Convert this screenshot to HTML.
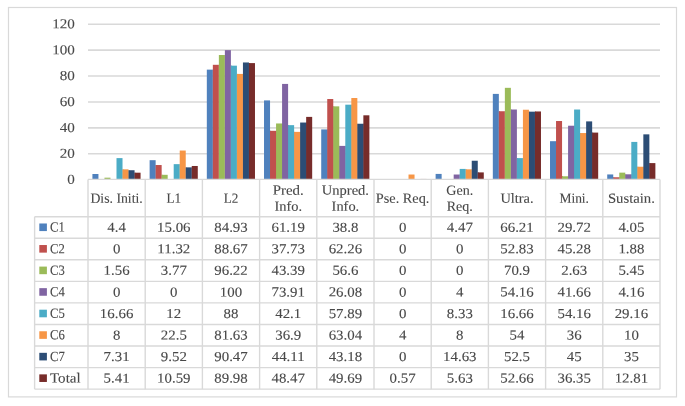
<!DOCTYPE html>
<html><head><meta charset="utf-8"><title>Chart</title>
<style>
html,body{margin:0;padding:0;background:#fff;}
body{width:685px;height:406px;overflow:hidden;}
svg{display:block;}
svg text{font-family:"Liberation Serif",serif;text-rendering:geometricPrecision;stroke:#484848;stroke-width:.1px;}
</style></head><body>
<svg width="685" height="406" viewBox="0 0 685 406" font-family="'Liberation Serif', serif" font-size="13.9" fill="#484848">
<rect x="0" y="0" width="685" height="406" fill="#fff"/>
<rect x="8.5" y="7.5" width="668" height="389.4" fill="none" stroke="#d9d9d9" stroke-width="1.2"/>
<line x1="88.0" x2="660.0" y1="153.78" y2="153.78" stroke="#d9d9d9" stroke-width="1.55"/>
<line x1="88.0" x2="660.0" y1="127.87" y2="127.87" stroke="#d9d9d9" stroke-width="1.55"/>
<line x1="88.0" x2="660.0" y1="101.95" y2="101.95" stroke="#d9d9d9" stroke-width="1.55"/>
<line x1="88.0" x2="660.0" y1="76.03" y2="76.03" stroke="#d9d9d9" stroke-width="1.55"/>
<line x1="88.0" x2="660.0" y1="50.12" y2="50.12" stroke="#d9d9d9" stroke-width="1.55"/>
<line x1="88.0" x2="660.0" y1="24.20" y2="24.20" stroke="#d9d9d9" stroke-width="1.55"/>
<text transform="translate(74.90,183.80) skewY(0.1) scale(1.11,1)" text-anchor="end" font-size="13.6">0</text>
<text transform="translate(74.90,157.88) skewY(0.1) scale(1.11,1)" text-anchor="end" font-size="13.6">20</text>
<text transform="translate(74.90,131.97) skewY(0.1) scale(1.11,1)" text-anchor="end" font-size="13.6">40</text>
<text transform="translate(74.90,106.05) skewY(0.1) scale(1.11,1)" text-anchor="end" font-size="13.6">60</text>
<text transform="translate(74.90,80.13) skewY(0.1) scale(1.11,1)" text-anchor="end" font-size="13.6">80</text>
<text transform="translate(74.90,54.22) skewY(0.1) scale(1.11,1)" text-anchor="end" font-size="13.6">100</text>
<text transform="translate(74.90,28.30) skewY(0.1) scale(1.11,1)" text-anchor="end" font-size="13.6">120</text>
<g fill="#4F81BD">
<rect x="92.42" y="174.00" width="6.02" height="5.70"/>
<rect x="149.62" y="160.18" width="6.02" height="19.52"/>
<rect x="155.59" y="165.03" width="1" height="14.67"/>
<rect x="206.82" y="69.64" width="6.02" height="110.06"/>
<rect x="212.79" y="69.64" width="1" height="110.06"/>
<rect x="264.02" y="100.41" width="6.02" height="79.29"/>
<rect x="269.99" y="130.81" width="1" height="48.89"/>
<rect x="321.22" y="129.42" width="6.02" height="50.28"/>
<rect x="327.19" y="129.42" width="1" height="50.28"/>
<rect x="435.62" y="173.91" width="6.02" height="5.79"/>
<rect x="492.82" y="93.90" width="6.02" height="85.80"/>
<rect x="498.79" y="111.24" width="1" height="68.46"/>
<rect x="550.02" y="141.19" width="6.02" height="38.51"/>
<rect x="555.99" y="141.19" width="1" height="38.51"/>
<rect x="607.22" y="174.45" width="6.02" height="5.25"/>
<rect x="613.19" y="177.26" width="1" height="2.44"/>
</g>
<g fill="#C0504D">
<rect x="155.64" y="165.03" width="6.02" height="14.67"/>
<rect x="161.61" y="174.81" width="1" height="4.89"/>
<rect x="212.84" y="64.80" width="6.02" height="114.90"/>
<rect x="218.81" y="64.80" width="1" height="114.90"/>
<rect x="270.04" y="130.81" width="6.02" height="48.89"/>
<rect x="276.01" y="130.81" width="1" height="48.89"/>
<rect x="327.24" y="99.02" width="6.02" height="80.68"/>
<rect x="333.21" y="106.36" width="1" height="73.34"/>
<rect x="498.84" y="111.24" width="6.02" height="68.46"/>
<rect x="504.81" y="111.24" width="1" height="68.46"/>
<rect x="556.04" y="121.02" width="6.02" height="58.68"/>
<rect x="562.01" y="176.29" width="1" height="3.41"/>
<rect x="613.24" y="177.26" width="6.02" height="2.44"/>
<rect x="619.21" y="177.26" width="1" height="2.44"/>
</g>
<g fill="#9BBB59">
<rect x="104.46" y="177.68" width="6.02" height="2.02"/>
<rect x="161.66" y="174.81" width="6.02" height="4.89"/>
<rect x="218.86" y="55.01" width="6.02" height="124.69"/>
<rect x="224.83" y="55.01" width="1" height="124.69"/>
<rect x="276.06" y="123.47" width="6.02" height="56.23"/>
<rect x="282.03" y="123.47" width="1" height="56.23"/>
<rect x="333.26" y="106.36" width="6.02" height="73.34"/>
<rect x="339.23" y="145.90" width="1" height="33.80"/>
<rect x="504.86" y="87.83" width="6.02" height="91.87"/>
<rect x="510.83" y="109.52" width="1" height="70.18"/>
<rect x="562.06" y="176.29" width="6.02" height="3.41"/>
<rect x="568.03" y="176.29" width="1" height="3.41"/>
<rect x="619.26" y="172.64" width="6.02" height="7.06"/>
<rect x="625.23" y="174.31" width="1" height="5.39"/>
</g>
<g fill="#8064A2">
<rect x="224.88" y="50.12" width="6.02" height="129.58"/>
<rect x="230.85" y="65.67" width="1" height="114.03"/>
<rect x="282.08" y="83.92" width="6.02" height="95.78"/>
<rect x="288.05" y="125.15" width="1" height="54.55"/>
<rect x="339.28" y="145.90" width="6.02" height="33.80"/>
<rect x="345.25" y="145.90" width="1" height="33.80"/>
<rect x="453.68" y="174.52" width="6.02" height="5.18"/>
<rect x="459.65" y="174.52" width="1" height="5.18"/>
<rect x="510.88" y="109.52" width="6.02" height="70.18"/>
<rect x="516.85" y="158.11" width="1" height="21.59"/>
<rect x="568.08" y="125.72" width="6.02" height="53.98"/>
<rect x="574.05" y="125.72" width="1" height="53.98"/>
<rect x="625.28" y="174.31" width="6.02" height="5.39"/>
<rect x="631.25" y="174.31" width="1" height="5.39"/>
</g>
<g fill="#4BACC6">
<rect x="116.50" y="158.11" width="6.02" height="21.59"/>
<rect x="122.47" y="169.33" width="1" height="10.37"/>
<rect x="173.70" y="164.15" width="6.02" height="15.55"/>
<rect x="179.67" y="164.15" width="1" height="15.55"/>
<rect x="230.90" y="65.67" width="6.02" height="114.03"/>
<rect x="236.87" y="73.92" width="1" height="105.78"/>
<rect x="288.10" y="125.15" width="6.02" height="54.55"/>
<rect x="294.07" y="131.88" width="1" height="47.82"/>
<rect x="345.30" y="104.68" width="6.02" height="75.02"/>
<rect x="351.27" y="104.68" width="1" height="75.02"/>
<rect x="459.70" y="168.91" width="6.02" height="10.79"/>
<rect x="465.67" y="169.33" width="1" height="10.37"/>
<rect x="516.90" y="158.11" width="6.02" height="21.59"/>
<rect x="522.87" y="158.11" width="1" height="21.59"/>
<rect x="574.10" y="109.52" width="6.02" height="70.18"/>
<rect x="580.07" y="133.05" width="1" height="46.65"/>
<rect x="631.30" y="141.91" width="6.02" height="37.79"/>
<rect x="637.27" y="166.74" width="1" height="12.96"/>
</g>
<g fill="#F79646">
<rect x="122.52" y="169.33" width="6.02" height="10.37"/>
<rect x="128.49" y="170.23" width="1" height="9.47"/>
<rect x="179.72" y="150.54" width="6.02" height="29.16"/>
<rect x="185.69" y="167.36" width="1" height="12.34"/>
<rect x="236.92" y="73.92" width="6.02" height="105.78"/>
<rect x="242.89" y="73.92" width="1" height="105.78"/>
<rect x="294.12" y="131.88" width="6.02" height="47.82"/>
<rect x="300.09" y="131.88" width="1" height="47.82"/>
<rect x="351.32" y="98.01" width="6.02" height="81.69"/>
<rect x="357.29" y="123.75" width="1" height="55.95"/>
<rect x="408.52" y="174.52" width="6.02" height="5.18"/>
<rect x="465.72" y="169.33" width="6.02" height="10.37"/>
<rect x="471.69" y="169.33" width="1" height="10.37"/>
<rect x="522.92" y="109.73" width="6.02" height="69.98"/>
<rect x="528.89" y="111.67" width="1" height="68.03"/>
<rect x="580.12" y="133.05" width="6.02" height="46.65"/>
<rect x="586.09" y="133.05" width="1" height="46.65"/>
<rect x="637.32" y="166.74" width="6.02" height="12.96"/>
<rect x="643.29" y="166.74" width="1" height="12.96"/>
</g>
<g fill="#2C4D75">
<rect x="128.54" y="170.23" width="6.02" height="9.47"/>
<rect x="134.51" y="172.69" width="1" height="7.01"/>
<rect x="185.74" y="167.36" width="6.02" height="12.34"/>
<rect x="191.71" y="167.36" width="1" height="12.34"/>
<rect x="242.94" y="62.47" width="6.02" height="117.23"/>
<rect x="248.91" y="63.10" width="1" height="116.60"/>
<rect x="300.14" y="122.54" width="6.02" height="57.16"/>
<rect x="306.11" y="122.54" width="1" height="57.16"/>
<rect x="357.34" y="123.75" width="6.02" height="55.95"/>
<rect x="363.31" y="123.75" width="1" height="55.95"/>
<rect x="471.74" y="160.74" width="6.02" height="18.96"/>
<rect x="477.71" y="172.40" width="1" height="7.30"/>
<rect x="528.94" y="111.67" width="6.02" height="68.03"/>
<rect x="534.91" y="111.67" width="1" height="68.03"/>
<rect x="586.14" y="121.39" width="6.02" height="58.31"/>
<rect x="592.11" y="132.60" width="1" height="47.10"/>
<rect x="643.34" y="134.35" width="6.02" height="45.35"/>
<rect x="649.31" y="163.10" width="1" height="16.60"/>
</g>
<g fill="#772C2A">
<rect x="134.56" y="172.69" width="6.02" height="7.01"/>
<rect x="191.76" y="165.98" width="6.02" height="13.72"/>
<rect x="248.96" y="63.10" width="6.02" height="116.60"/>
<rect x="306.16" y="116.89" width="6.02" height="62.81"/>
<rect x="363.36" y="115.31" width="6.02" height="64.39"/>
<rect x="420.56" y="178.96" width="6.02" height="0.74"/>
<rect x="477.76" y="172.40" width="6.02" height="7.30"/>
<rect x="534.96" y="111.46" width="6.02" height="68.24"/>
<rect x="592.16" y="132.60" width="6.02" height="47.10"/>
<rect x="649.36" y="163.10" width="6.02" height="16.60"/>
</g>
<g stroke="#d9d9d9" stroke-width="1.4" fill="none">
<line x1="88.0" x2="660.0" y1="179.4" y2="179.4"/>
<line x1="34.6" x2="660.0" y1="216.70" y2="216.70"/>
<line x1="34.6" x2="660.0" y1="238.26" y2="238.26"/>
<line x1="34.6" x2="660.0" y1="259.81" y2="259.81"/>
<line x1="34.6" x2="660.0" y1="281.37" y2="281.37"/>
<line x1="34.6" x2="660.0" y1="302.92" y2="302.92"/>
<line x1="34.6" x2="660.0" y1="324.48" y2="324.48"/>
<line x1="34.6" x2="660.0" y1="346.04" y2="346.04"/>
<line x1="34.6" x2="660.0" y1="367.59" y2="367.59"/>
<line x1="34.6" x2="660.0" y1="389.15" y2="389.15"/>
<line x1="34.6" x2="34.6" y1="216.7" y2="389.15"/>
<line x1="88.00" x2="88.00" y1="179.4" y2="389.15"/>
<line x1="145.20" x2="145.20" y1="179.4" y2="389.15"/>
<line x1="202.40" x2="202.40" y1="179.4" y2="389.15"/>
<line x1="259.60" x2="259.60" y1="179.4" y2="389.15"/>
<line x1="316.80" x2="316.80" y1="179.4" y2="389.15"/>
<line x1="374.00" x2="374.00" y1="179.4" y2="389.15"/>
<line x1="431.20" x2="431.20" y1="179.4" y2="389.15"/>
<line x1="488.40" x2="488.40" y1="179.4" y2="389.15"/>
<line x1="545.60" x2="545.60" y1="179.4" y2="389.15"/>
<line x1="602.80" x2="602.80" y1="179.4" y2="389.15"/>
<line x1="660.00" x2="660.00" y1="179.4" y2="389.15"/>
</g>
<g>
<text transform="translate(116.60,202.70) skewY(0.1) scale(0.9898,1)" text-anchor="middle">Dis. Initi.</text>
<text transform="translate(173.80,202.70) skewY(0.1) scale(0.9506,1)" text-anchor="middle">L1</text>
<text transform="translate(231.00,202.70) skewY(0.1) scale(0.9506,1)" text-anchor="middle">L2</text>
<text transform="translate(288.20,194.65) skewY(0.1) scale(1.0721,1)" text-anchor="middle">Pred.</text>
<text transform="translate(288.20,210.65) skewY(0.1) scale(1.0359,1)" text-anchor="middle">Info.</text>
<text transform="translate(345.40,194.65) skewY(0.1) scale(1.0447,1)" text-anchor="middle">Unpred.</text>
<text transform="translate(345.40,210.65) skewY(0.1) scale(1.0359,1)" text-anchor="middle">Info.</text>
<text transform="translate(402.60,202.70) skewY(0.1) scale(1.0261,1)" text-anchor="middle">Pse. Req.</text>
<text transform="translate(459.80,194.65) skewY(0.1) scale(1.0094,1)" text-anchor="middle">Gen.</text>
<text transform="translate(459.80,210.65) skewY(0.1) scale(1.0094,1)" text-anchor="middle">Req.</text>
<text transform="translate(517.00,202.70) skewY(0.1) scale(1.0359,1)" text-anchor="middle">Ultra.</text>
<text transform="translate(574.20,202.70) skewY(0.1) scale(0.9702,1)" text-anchor="middle">Mini.</text>
<text transform="translate(631.40,202.70) skewY(0.1) scale(1.0584,1)" text-anchor="middle">Sustain.</text>
</g>
<rect x="39.3" y="223.48" width="7.6" height="7.6" fill="#4F81BD"/>
<text transform="translate(50.00,231.58) skewY(0.1) scale(0.9118,1)" text-anchor="start">C1</text>
<g>
<text transform="translate(116.60,231.73) skewY(0.1) scale(1.0936,1)" text-anchor="middle" font-size="13.6">4.4</text>
<text transform="translate(173.80,231.73) skewY(0.1) scale(1.0936,1)" text-anchor="middle" font-size="13.6">15.06</text>
<text transform="translate(231.00,231.73) skewY(0.1) scale(1.0936,1)" text-anchor="middle" font-size="13.6">84.93</text>
<text transform="translate(288.20,231.73) skewY(0.1) scale(1.0936,1)" text-anchor="middle" font-size="13.6">61.19</text>
<text transform="translate(345.40,231.73) skewY(0.1) scale(1.0936,1)" text-anchor="middle" font-size="13.6">38.8</text>
<text transform="translate(402.60,231.73) skewY(0.1) scale(1.0936,1)" text-anchor="middle" font-size="13.6">0</text>
<text transform="translate(459.80,231.73) skewY(0.1) scale(1.0936,1)" text-anchor="middle" font-size="13.6">4.47</text>
<text transform="translate(517.00,231.73) skewY(0.1) scale(1.0936,1)" text-anchor="middle" font-size="13.6">66.21</text>
<text transform="translate(574.20,231.73) skewY(0.1) scale(1.0936,1)" text-anchor="middle" font-size="13.6">29.72</text>
<text transform="translate(631.40,231.73) skewY(0.1) scale(1.0936,1)" text-anchor="middle" font-size="13.6">4.05</text>
</g>
<rect x="39.3" y="245.03" width="7.6" height="7.6" fill="#C0504D"/>
<text transform="translate(50.00,253.13) skewY(0.1) scale(0.9118,1)" text-anchor="start">C2</text>
<g>
<text transform="translate(116.60,253.28) skewY(0.1) scale(1.0936,1)" text-anchor="middle" font-size="13.6">0</text>
<text transform="translate(173.80,253.28) skewY(0.1) scale(1.0936,1)" text-anchor="middle" font-size="13.6">11.32</text>
<text transform="translate(231.00,253.28) skewY(0.1) scale(1.0936,1)" text-anchor="middle" font-size="13.6">88.67</text>
<text transform="translate(288.20,253.28) skewY(0.1) scale(1.0936,1)" text-anchor="middle" font-size="13.6">37.73</text>
<text transform="translate(345.40,253.28) skewY(0.1) scale(1.0936,1)" text-anchor="middle" font-size="13.6">62.26</text>
<text transform="translate(402.60,253.28) skewY(0.1) scale(1.0936,1)" text-anchor="middle" font-size="13.6">0</text>
<text transform="translate(459.80,253.28) skewY(0.1) scale(1.0936,1)" text-anchor="middle" font-size="13.6">0</text>
<text transform="translate(517.00,253.28) skewY(0.1) scale(1.0936,1)" text-anchor="middle" font-size="13.6">52.83</text>
<text transform="translate(574.20,253.28) skewY(0.1) scale(1.0936,1)" text-anchor="middle" font-size="13.6">45.28</text>
<text transform="translate(631.40,253.28) skewY(0.1) scale(1.0936,1)" text-anchor="middle" font-size="13.6">1.88</text>
</g>
<rect x="39.3" y="266.59" width="7.6" height="7.6" fill="#9BBB59"/>
<text transform="translate(50.00,274.69) skewY(0.1) scale(0.9118,1)" text-anchor="start">C3</text>
<g>
<text transform="translate(116.60,274.84) skewY(0.1) scale(1.0936,1)" text-anchor="middle" font-size="13.6">1.56</text>
<text transform="translate(173.80,274.84) skewY(0.1) scale(1.0936,1)" text-anchor="middle" font-size="13.6">3.77</text>
<text transform="translate(231.00,274.84) skewY(0.1) scale(1.0936,1)" text-anchor="middle" font-size="13.6">96.22</text>
<text transform="translate(288.20,274.84) skewY(0.1) scale(1.0936,1)" text-anchor="middle" font-size="13.6">43.39</text>
<text transform="translate(345.40,274.84) skewY(0.1) scale(1.0936,1)" text-anchor="middle" font-size="13.6">56.6</text>
<text transform="translate(402.60,274.84) skewY(0.1) scale(1.0936,1)" text-anchor="middle" font-size="13.6">0</text>
<text transform="translate(459.80,274.84) skewY(0.1) scale(1.0936,1)" text-anchor="middle" font-size="13.6">0</text>
<text transform="translate(517.00,274.84) skewY(0.1) scale(1.0936,1)" text-anchor="middle" font-size="13.6">70.9</text>
<text transform="translate(574.20,274.84) skewY(0.1) scale(1.0936,1)" text-anchor="middle" font-size="13.6">2.63</text>
<text transform="translate(631.40,274.84) skewY(0.1) scale(1.0936,1)" text-anchor="middle" font-size="13.6">5.45</text>
</g>
<rect x="39.3" y="288.15" width="7.6" height="7.6" fill="#8064A2"/>
<text transform="translate(50.00,296.25) skewY(0.1) scale(0.9118,1)" text-anchor="start">C4</text>
<g>
<text transform="translate(116.60,296.40) skewY(0.1) scale(1.0936,1)" text-anchor="middle" font-size="13.6">0</text>
<text transform="translate(173.80,296.40) skewY(0.1) scale(1.0936,1)" text-anchor="middle" font-size="13.6">0</text>
<text transform="translate(231.00,296.40) skewY(0.1) scale(1.0936,1)" text-anchor="middle" font-size="13.6">100</text>
<text transform="translate(288.20,296.40) skewY(0.1) scale(1.0936,1)" text-anchor="middle" font-size="13.6">73.91</text>
<text transform="translate(345.40,296.40) skewY(0.1) scale(1.0936,1)" text-anchor="middle" font-size="13.6">26.08</text>
<text transform="translate(402.60,296.40) skewY(0.1) scale(1.0936,1)" text-anchor="middle" font-size="13.6">0</text>
<text transform="translate(459.80,296.40) skewY(0.1) scale(1.0936,1)" text-anchor="middle" font-size="13.6">4</text>
<text transform="translate(517.00,296.40) skewY(0.1) scale(1.0936,1)" text-anchor="middle" font-size="13.6">54.16</text>
<text transform="translate(574.20,296.40) skewY(0.1) scale(1.0936,1)" text-anchor="middle" font-size="13.6">41.66</text>
<text transform="translate(631.40,296.40) skewY(0.1) scale(1.0936,1)" text-anchor="middle" font-size="13.6">4.16</text>
</g>
<rect x="39.3" y="309.70" width="7.6" height="7.6" fill="#4BACC6"/>
<text transform="translate(50.00,317.80) skewY(0.1) scale(0.9118,1)" text-anchor="start">C5</text>
<g>
<text transform="translate(116.60,317.95) skewY(0.1) scale(1.0936,1)" text-anchor="middle" font-size="13.6">16.66</text>
<text transform="translate(173.80,317.95) skewY(0.1) scale(1.0936,1)" text-anchor="middle" font-size="13.6">12</text>
<text transform="translate(231.00,317.95) skewY(0.1) scale(1.0936,1)" text-anchor="middle" font-size="13.6">88</text>
<text transform="translate(288.20,317.95) skewY(0.1) scale(1.0936,1)" text-anchor="middle" font-size="13.6">42.1</text>
<text transform="translate(345.40,317.95) skewY(0.1) scale(1.0936,1)" text-anchor="middle" font-size="13.6">57.89</text>
<text transform="translate(402.60,317.95) skewY(0.1) scale(1.0936,1)" text-anchor="middle" font-size="13.6">0</text>
<text transform="translate(459.80,317.95) skewY(0.1) scale(1.0936,1)" text-anchor="middle" font-size="13.6">8.33</text>
<text transform="translate(517.00,317.95) skewY(0.1) scale(1.0936,1)" text-anchor="middle" font-size="13.6">16.66</text>
<text transform="translate(574.20,317.95) skewY(0.1) scale(1.0936,1)" text-anchor="middle" font-size="13.6">54.16</text>
<text transform="translate(631.40,317.95) skewY(0.1) scale(1.0936,1)" text-anchor="middle" font-size="13.6">29.16</text>
</g>
<rect x="39.3" y="331.26" width="7.6" height="7.6" fill="#F79646"/>
<text transform="translate(50.00,339.36) skewY(0.1) scale(0.9118,1)" text-anchor="start">C6</text>
<g>
<text transform="translate(116.60,339.51) skewY(0.1) scale(1.0936,1)" text-anchor="middle" font-size="13.6">8</text>
<text transform="translate(173.80,339.51) skewY(0.1) scale(1.0936,1)" text-anchor="middle" font-size="13.6">22.5</text>
<text transform="translate(231.00,339.51) skewY(0.1) scale(1.0936,1)" text-anchor="middle" font-size="13.6">81.63</text>
<text transform="translate(288.20,339.51) skewY(0.1) scale(1.0936,1)" text-anchor="middle" font-size="13.6">36.9</text>
<text transform="translate(345.40,339.51) skewY(0.1) scale(1.0936,1)" text-anchor="middle" font-size="13.6">63.04</text>
<text transform="translate(402.60,339.51) skewY(0.1) scale(1.0936,1)" text-anchor="middle" font-size="13.6">4</text>
<text transform="translate(459.80,339.51) skewY(0.1) scale(1.0936,1)" text-anchor="middle" font-size="13.6">8</text>
<text transform="translate(517.00,339.51) skewY(0.1) scale(1.0936,1)" text-anchor="middle" font-size="13.6">54</text>
<text transform="translate(574.20,339.51) skewY(0.1) scale(1.0936,1)" text-anchor="middle" font-size="13.6">36</text>
<text transform="translate(631.40,339.51) skewY(0.1) scale(1.0936,1)" text-anchor="middle" font-size="13.6">10</text>
</g>
<rect x="39.3" y="352.82" width="7.6" height="7.6" fill="#2C4D75"/>
<text transform="translate(50.00,360.92) skewY(0.1) scale(0.9118,1)" text-anchor="start">C7</text>
<g>
<text transform="translate(116.60,361.07) skewY(0.1) scale(1.0936,1)" text-anchor="middle" font-size="13.6">7.31</text>
<text transform="translate(173.80,361.07) skewY(0.1) scale(1.0936,1)" text-anchor="middle" font-size="13.6">9.52</text>
<text transform="translate(231.00,361.07) skewY(0.1) scale(1.0936,1)" text-anchor="middle" font-size="13.6">90.47</text>
<text transform="translate(288.20,361.07) skewY(0.1) scale(1.0936,1)" text-anchor="middle" font-size="13.6">44.11</text>
<text transform="translate(345.40,361.07) skewY(0.1) scale(1.0936,1)" text-anchor="middle" font-size="13.6">43.18</text>
<text transform="translate(402.60,361.07) skewY(0.1) scale(1.0936,1)" text-anchor="middle" font-size="13.6">0</text>
<text transform="translate(459.80,361.07) skewY(0.1) scale(1.0936,1)" text-anchor="middle" font-size="13.6">14.63</text>
<text transform="translate(517.00,361.07) skewY(0.1) scale(1.0936,1)" text-anchor="middle" font-size="13.6">52.5</text>
<text transform="translate(574.20,361.07) skewY(0.1) scale(1.0936,1)" text-anchor="middle" font-size="13.6">45</text>
<text transform="translate(631.40,361.07) skewY(0.1) scale(1.0936,1)" text-anchor="middle" font-size="13.6">35</text>
</g>
<rect x="39.3" y="374.37" width="7.6" height="7.6" fill="#772C2A"/>
<text transform="translate(50.00,382.47) skewY(0.1) scale(1.081,1)" text-anchor="start">Total</text>
<g>
<text transform="translate(116.60,382.62) skewY(0.1) scale(1.0936,1)" text-anchor="middle" font-size="13.6">5.41</text>
<text transform="translate(173.80,382.62) skewY(0.1) scale(1.0936,1)" text-anchor="middle" font-size="13.6">10.59</text>
<text transform="translate(231.00,382.62) skewY(0.1) scale(1.0936,1)" text-anchor="middle" font-size="13.6">89.98</text>
<text transform="translate(288.20,382.62) skewY(0.1) scale(1.0936,1)" text-anchor="middle" font-size="13.6">48.47</text>
<text transform="translate(345.40,382.62) skewY(0.1) scale(1.0936,1)" text-anchor="middle" font-size="13.6">49.69</text>
<text transform="translate(402.60,382.62) skewY(0.1) scale(1.0936,1)" text-anchor="middle" font-size="13.6">0.57</text>
<text transform="translate(459.80,382.62) skewY(0.1) scale(1.0936,1)" text-anchor="middle" font-size="13.6">5.63</text>
<text transform="translate(517.00,382.62) skewY(0.1) scale(1.0936,1)" text-anchor="middle" font-size="13.6">52.66</text>
<text transform="translate(574.20,382.62) skewY(0.1) scale(1.0936,1)" text-anchor="middle" font-size="13.6">36.35</text>
<text transform="translate(631.40,382.62) skewY(0.1) scale(1.0936,1)" text-anchor="middle" font-size="13.6">12.81</text>
</g>
</svg>
</body></html>
